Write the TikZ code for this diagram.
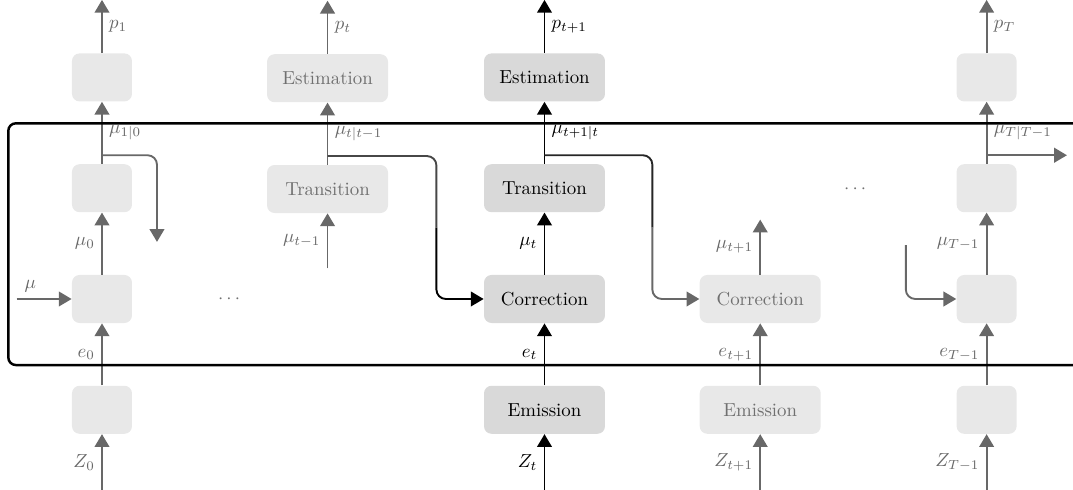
\documentclass[tikz,border=0pt]{standalone}
\usepackage{times}
\usetikzlibrary{positioning,arrows.meta,calc}
\definecolor{boxlight}{RGB}{232,232,232}
\definecolor{boxdark}{RGB}{217,217,217}
\definecolor{wire}{RGB}{104,104,104}
\definecolor{faded}{RGB}{112,112,112}
\tikzset{
  cell/.style={rounded corners=4pt, minimum height=8.95mm, inner sep=0pt},
  wide/.style={cell, minimum width=22.55mm}, slim/.style={cell, minimum width=11.18mm},
  past/.style={fill=boxlight, text=faded}, now/.style={fill=boxdark, text=black},
  flow/.style={-{Triangle[length=6.8pt,width=7.8pt]}, line width=1pt},
  pflow/.style={flow, color=wire}, nflow/.style={flow, color=black},
}

\begin{document}
\begin{tikzpicture}[node distance=11.56mm]
    \useasboundingbox (0,0) rectangle (20,9.115);
    % time step 0
    \node[slim,past] (corr0) at (1.901,3.542) {};
    \node[slim,past,above=of corr0] (trans0) {};
    \node[slim,past,above=of trans0] (est0) {};
    \node[slim,past,below=of corr0] (emi0) {};
    % time step t
    \node[wide,past] (trans1) at (6.105,5.592) {Transition};
    \node[wide,past,above=of trans1] (est1) {Estimation};
    % time step t+1 (active)
    \node[wide,now] (corr2) at (10.149,3.542) {Correction};
    \node[wide,now,above=of corr2] (trans2) {Transition};
    \node[wide,now,above=of trans2] (est2) {Estimation};
    \node[wide,now,below=of corr2] (emi2) {Emission};
    % time step t+2
    \node[wide,past] (corr3) at (14.17,3.542) {Correction};
    \node[wide,past,below=of corr3] (emi3) {Emission};
    % time step T
    \node[slim,past] (corr4) at (18.39,3.542) {};
    \node[slim,past,above=of corr4] (trans4) {};
    \node[slim,past,above=of trans4] (est4) {};
    \node[slim,past,below=of corr4] (emi4) {};
    \node[text=faded] (dots1) at (4.27,3.542) {$\cdots$};
    \node[text=faded] (dots2) at (15.94,5.592) {$\cdots$};

    \coordinate (top0) at ($(est0.north)+(0,0.99)$);
    \coordinate (bot0) at ($(emi0.south)+(0,-1.05)$);
    \coordinate (mu) at ($(corr0.west)+(-1.025,0)$);
    \coordinate (j0) at ($(trans0.north)+(0,0.16)$);
    \coordinate (d0) at ($(j0)+(1.025,-1.615)$);
    \draw[pflow] (est0.north) -- node[right]{$p_1$} (top0);
    \draw[pflow] (trans0.north) -- node[right]{$\mu_{1|0}$} (est0.south);
    \draw[pflow] (corr0.north) -- node[left]{$\mu_0$} (trans0.south);
    \draw[pflow] (emi0.north) -- node[left]{$e_0$} (corr0.south);
    \draw[pflow] (bot0) -- node[left]{$Z_0$} (emi0.south);
    \draw[pflow] (mu) -- node[pos=0.25,above]{$\mu$} (corr0.west);
    \draw[pflow,rounded corners=5pt] (j0) -| (d0);

    \coordinate (top1) at ($(est1.north)+(0,0.99)$);
    \coordinate (in1) at ($(trans1.south)+(0,-1.025)$);
    \coordinate (j1) at ($(trans1.north)+(0,0.16)$);
    \coordinate (k1) at ($(corr2.west)+(-0.88,1.33)$);
    \draw[pflow] (est1.north) -- node[right]{$p_t$} (top1);
    \draw[pflow] (trans1.north) -- node[right]{$\mu_{t|t-1}$} (est1.south);
    \draw[pflow] (in1) -- node[left]{$\mu_{t-1}$} (trans1.south);
    \draw[line width=1pt,black!72,rounded corners=5pt] (j1) -| (k1);
    \draw[nflow,rounded corners=5pt] (k1) |- (corr2.west);

    \coordinate (top2) at ($(est2.north)+(0,0.99)$);
    \coordinate (bot2) at ($(emi2.south)+(0,-1.05)$);
    \coordinate (j2) at ($(trans2.north)+(0,0.16)$);
    \coordinate (k2) at ($(corr3.west)+(-0.876,1.33)$);
    \draw[nflow] (est2.north) -- node[right]{$p_{t+1}$} (top2);
    \draw[nflow] (trans2.north) -- node[right]{$\mu_{t+1|t}$} (est2.south);
    \draw[nflow] (corr2.north) -- node[left]{$\mu_t$} (trans2.south);
    \draw[nflow] (emi2.north) -- node[left]{$e_t$} (corr2.south);
    \draw[nflow] (bot2) -- node[left]{$Z_t$} (emi2.south);
    \draw[line width=1pt,black!85,rounded corners=5pt] (j2) -| (k2);
    \draw[pflow,rounded corners=5pt] (k2) |- (corr3.west);

    \coordinate (out3) at ($(corr3.north)+(0,1.025)$);
    \coordinate (bot3) at ($(emi3.south)+(0,-1.05)$);
    \draw[pflow] (corr3.north) -- node[left]{$\mu_{t+1}$} (out3);
    \draw[pflow] (emi3.north) -- node[left]{$e_{t+1}$} (corr3.south);
    \draw[pflow] (bot3) -- node[left]{$Z_{t+1}$} (emi3.south);

    \coordinate (top4) at ($(est4.north)+(0,0.99)$);
    \coordinate (bot4) at ($(emi4.south)+(0,-1.05)$);
    \coordinate (j4) at ($(trans4.north)+(0,0.16)$);
    \coordinate (r4) at ($(j4)+(1.497,0)$);
    \coordinate (in4) at ($(corr4.west)+(-0.94,1.006)$);
    \draw[pflow] (est4.north) -- node[right]{$p_T$} (top4);
    \draw[pflow] (trans4.north) -- node[right]{$\mu_{T|T-1}$} (est4.south);
    \draw[pflow] (corr4.north) -- node[left]{$\mu_{T-1}$} (trans4.south);
    \draw[pflow] (emi4.north) -- node[left]{$e_{T-1}$} (corr4.south);
    \draw[pflow] (bot4) -- node[left]{$Z_{T-1}$} (emi4.south);
    \draw[pflow] (j4) -- (r4);
    \draw[pflow,rounded corners=5pt] (in4) |- (corr4.west);

    % recurrent block
    \draw[line width=1.3pt,rounded corners=4pt] (0.155,2.311) rectangle (20.6,6.817);
  \end{tikzpicture}
\end{document}
